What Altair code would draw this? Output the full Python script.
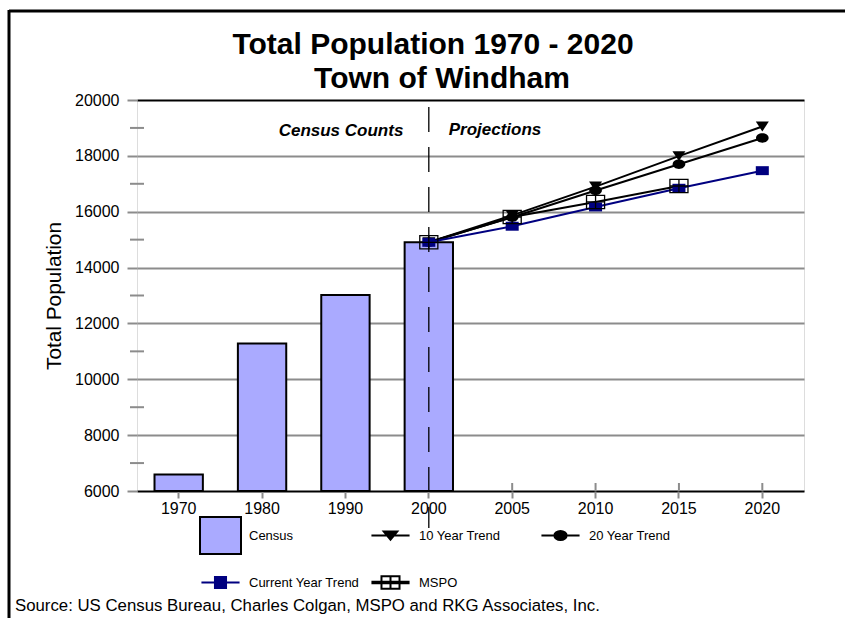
import altair as alt
import pandas as pd

# ---- data -------------------------------------------------------------
years = ["1970", "1980", "1990", "2000", "2005", "2010", "2015", "2020"]

census_years = ["1970", "1980", "1990", "2000"]
census_counts = [6593, 11282, 13020, 14904]

proj_years = ["2000", "2005", "2010", "2015", "2020"]
ten_year_trend = [14904, 15870, 16900, 17990, 19050]
twenty_year_trend = [14904, 15800, 16760, 17700, 18640]
current_year_trend = [14904, 15480, 16170, 16840, 17470]

mspo_years = ["2000", "2005", "2010", "2015"]
mspo = [14904, 15810, 16350, 16920]

# key order
series_names = ["Census", "10 Year Trend", "20 Year Trend", "Current Year Trend", "MSPO"]
# colour lookup (its own order)
palette_names = ["Census", "Current Year Trend", "10 Year Trend", "20 Year Trend", "MSPO"]
palette_colors = ["#aaaaff", "#000080", "#000000", "#000000", "#000000"]

y_ticks = list(range(6000, 20001, 2000))
y_minor = list(range(7000, 20000, 2000))

title_lines = ["Total Population 1970 - 2020", "Town of Windham"]
y_title = "Total Population"
era_labels = ["Census Counts", "Projections"]
source_note = "Source: US Census Bureau, Charles Colgan, MSPO and RKG Associates, Inc."

# ---- tables -----------------------------------------------------------
bars_df = pd.DataFrame({"year": census_years, "pop": census_counts, "series": "Census"})

trend_rows = []
for name, vals in [("10 Year Trend", ten_year_trend),
                   ("20 Year Trend", twenty_year_trend),
                   ("Current Year Trend", current_year_trend)]:
    for yr, v in zip(proj_years, vals):
        trend_rows.append({"year": yr, "pop": v, "series": name})
trend_df = pd.DataFrame(trend_rows)
mspo_df = pd.DataFrame({"year": mspo_years, "pop": mspo, "series": "MSPO"})
lines_df = pd.concat([mspo_df, trend_df], ignore_index=True)

minor_df = pd.DataFrame({"pop": y_minor})
years_df = pd.DataFrame({"year": years})
divider_df = pd.DataFrame({"year": ["2000"]})

# ---- styles -----------------------------------------------------------
FONT = "Liberation Sans"
GRID_GREY = "#8c8c8c"

# marker outlines in unit coordinates
TRI = "M-0.93,-0.71H0.93L0,0.71Z"
ELL = "M0.9,0A0.9,0.67,0,1,1,-0.9,0A0.9,0.67,0,1,1,0.9,0Z"
SQR = "M-0.93,-0.64H0.93V0.64H-0.93Z"
BOX = "M-1.29,-0.95H1.29V0.95H-1.29ZM0,-0.95V0.95M-1.29,0H1.29"

# legend keys (all in the same 41px box): a swatch, or a short line with its marker.
# The leading move-tos give every key the swatch's height so the rows line up.
EXTENT = "M-1,-0.9M-1,0.9"
L_BAR = "M-1,-0.9H1V0.9H-1Z"
L_TRI = EXTENT + "M-0.93,0H0.93M-0.33,-0.2H0.33L0,0.2Z"
L_ELL = EXTENT + "M-0.93,0H0.93M0.3,0A0.3,0.22,0,1,1,-0.3,0A0.3,0.22,0,1,1,0.3,0Z"
L_SQR = EXTENT + "M-0.93,0H0.93M-0.27,-0.27H0.27V0.27H-0.27Z"
L_BOX = (EXTENT + "M-0.93,0H0.93M-0.93,-0.035H0.93M-0.93,0.035H0.93"
         "M-0.44,-0.31H0.44V0.31H-0.44ZM0,-0.31V0.31")

sym_type = (
    f"(datum.value == 'Census' ? '{L_BAR}' : "
    f"datum.value == '10 Year Trend' ? '{L_TRI}' : "
    f"datum.value == '20 Year Trend' ? '{L_ELL}' : "
    f"datum.value == 'Current Year Trend' ? '{L_SQR}' : '{L_BOX}')"
)
sym_fill = (
    "(datum.value == 'Census' ? '#aaaaff' : "
    "datum.value == 'Current Year Trend' ? '#000080' : "
    "datum.value == 'MSPO' ? '#ffffff' : '#000000')"
)
sym_stroke = "(datum.value == 'Current Year Trend' ? '#000080' : '#000000')"

legend = alt.Legend(
    title=None,
    orient="none",
    legendX=62,
    legendY=414,
    direction="horizontal",
    columns=3,
    gridAlign="all",
    columnPadding=6,
    rowPadding=2,
    padding=0,
    labelFont=FONT,
    labelFontSize=13,
    labelColor="black",
    labelOffset=7,
    labelLimit=300,
    symbolOffset=0,
    symbolType=alt.ExprRef(expr=sym_type),
    symbolSize=1681,
    symbolStrokeWidth=2,
    symbolFillColor=alt.ExprRef(expr=sym_fill),
    symbolStrokeColor=alt.ExprRef(expr=sym_stroke),
    symbolOpacity=1,
)

color_scale = alt.Scale(domain=palette_names, range=palette_colors)

x_axis = alt.Axis(
    title=None, labelAngle=0, labelFont=FONT, labelFontSize=16, labelColor="black",
    labelPadding=2, tickSize=7, tickColor=GRID_GREY, tickWidth=2, domain=False, grid=False,
)
y_axis = alt.Axis(
    title=y_title, values=y_ticks, format="d",
    labelFont=FONT, labelFontSize=16, labelColor="black", labelPadding=8,
    tickSize=10, tickColor=GRID_GREY, tickWidth=2, domain=False,
    grid=True, gridWidth=2,
    gridColor={"condition": {"test": "datum.value == 20000 || datum.value == 6000", "value": "black"},
               "value": GRID_GREY},
    titleFont=FONT, titleFontSize=20.8, titleFontWeight="normal", titleColor="black", titlePadding=10,
)


def x_enc():
    return alt.X("year:O", axis=x_axis,
                 scale=alt.Scale(domain=years, paddingInner=0.42, paddingOuter=0.21))


def y_enc():
    return alt.Y("pop:Q", axis=y_axis,
                 scale=alt.Scale(domain=[6000, 20000], zero=False, nice=False))


def color_enc():
    return alt.Color("series:N", scale=color_scale, legend=None)


def note(text, x, y, **style):
    return alt.Chart(pd.DataFrame({"t": [text]})).mark_text(
        color="black", baseline="alphabetic", **style
    ).encode(text="t:N", x=alt.value(x), y=alt.value(y))


# small inward ticks on the category axis
x_ticks = alt.Chart(years_df).mark_rule(color=GRID_GREY, strokeWidth=2).encode(
    x=x_enc(), y=alt.value(391), y2=alt.value(383)
)

# minor ticks crossing the value axis
minor_ticks = alt.Chart(minor_df).mark_rule(color=GRID_GREY, strokeWidth=2).encode(
    y=y_enc(), x=alt.value(-7), x2=alt.value(7)
)

# the key for all five series hangs off this channel
bars = alt.Chart(bars_df).mark_bar(stroke="black").encode(
    x=x_enc(), y=y_enc(), y2=alt.datum(6000), color=color_enc(),
    strokeWidth=alt.value(2),
    opacity=alt.Opacity("series:O", sort=series_names, legend=legend,
                        scale=alt.Scale(domain=series_names, range=[1, 1])),
)

divider = alt.Chart(divider_df).mark_rule(color="black", strokeWidth=1.3, strokeDash=[25, 15]).encode(
    x=x_enc(), y=alt.value(7), y2=alt.value(428)
)

lines = alt.Chart(lines_df).mark_line().encode(
    x=x_enc(), y=y_enc(), color=color_enc(),
    strokeWidth=alt.StrokeWidth("series:O", sort=series_names[1:], legend=None,
                                scale=alt.Scale(domain=series_names[1:], range=[2, 2, 2, 4])),
)

trend_points = alt.Chart(trend_df).mark_point(filled=True, size=196, opacity=1).encode(
    x=x_enc(), y=y_enc(), color=color_enc(),
    shape=alt.Shape("series:N", legend=None,
                    scale=alt.Scale(domain=series_names[1:4], range=[TRI, ELL, SQR])),
)

mspo_points = alt.Chart(mspo_df).mark_point(filled=False, size=196, shape=BOX, strokeWidth=1.3,
                                            opacity=1).encode(
    x=x_enc(), y=y_enc(), color=color_enc()
)

title_1 = note(title_lines[0], 296, -46, font=FONT, fontSize=30, fontWeight="bold", align="center")
title_2 = note(title_lines[1], 305, -12, font=FONT, fontSize=30, fontWeight="bold", align="center")

census_label = note(era_labels[0], 204, 36, font=FONT, fontSize=17, fontWeight="bold",
                    fontStyle="italic", align="center")
proj_label = note(era_labels[1], 358, 35, font=FONT, fontSize=17, fontWeight="bold",
                  fontStyle="italic", align="center")

source = note(source_note, -122, 511, font=FONT, fontSize=16.8, align="left")

# page frame
frame_top = alt.Chart(pd.DataFrame({"k": [0]})).mark_rule(color="black", strokeWidth=3).encode(
    x=alt.value(-128), x2=alt.value(720), y=alt.value(-89)
)
frame_left = alt.Chart(pd.DataFrame({"k": [0]})).mark_rule(color="black", strokeWidth=3).encode(
    x=alt.value(-128), y=alt.value(-90), y2=alt.value(530)
)

chart = alt.layer(
    x_ticks, minor_ticks, bars, divider, lines, trend_points, mspo_points,
    title_1, title_2, census_label, proj_label, source, frame_top, frame_left,
).properties(
    width=667,
    height=391,
    autosize=alt.AutoSizeParams(type="none"),
    padding={"left": 137, "top": 100, "right": 41, "bottom": 127},
).configure_view(
    stroke="black", strokeWidth=2
).configure(
    background="white"
)

chart.save("out.html", embed_options={"renderer": "svg", "actions": False})
